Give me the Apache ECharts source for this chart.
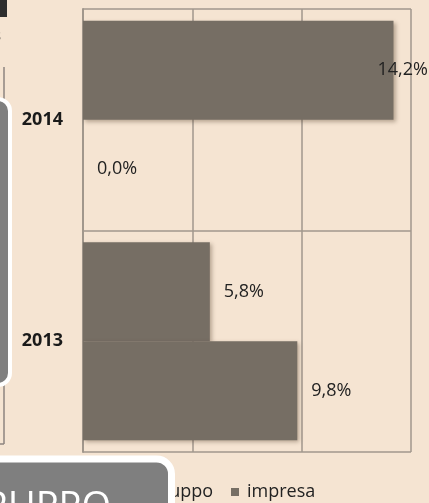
<!DOCTYPE html>
<html>
<head>
<meta charset="utf-8">
<script src="https://cdn.jsdelivr.net/npm/echarts@6/dist/echarts.min.js"></script>
<style>
html,body{margin:0;padding:0;background:#f5e4d2;}
#c{width:429px;height:503px;}
</style>
</head>
<body>
<div id="c"></div>
<script>
const categories = ['2013', '2014'];
const seriesNames = ['gruppo', 'impresa'];
const gruppo = [9.8, 0.0];
const impresa = [5.8, 14.2];
const xTicks = [0, 5, 10, 15];

const barColor = '#766e64';
const lineColor = '#a1978c';
const fmt = v => v.toFixed(1).replace('.', ',') + '%';

function items(arr) {
  return arr.map(v => {
    const it = { value: v };
    if (v > 13) it.label = { offset: [-30, 0] };
    return it;
  });
}

const chart = echarts.init(document.getElementById('c'));
const baseSeries = (name, data) => ({
  name: name,
  type: 'bar',
  data: items(data),
  barGap: '0%',
  barCategoryGap: '10.6%',
  itemStyle: {
    color: barColor,
    shadowColor: 'rgba(70,50,30,0.35)',
    shadowBlur: 4,
    shadowOffsetX: 2,
    shadowOffsetY: 2
  },
  label: {
    show: true,
    position: 'right',
    distance: 14,
    formatter: p => fmt(p.value),
    fontFamily: 'Open Sans',
    fontSize: 18,
    color: '#222222'
  }
});

chart.setOption({
  backgroundColor: '#f5e4d2',
  animation: false,
  grid: { left: 83, right: 18, top: 9, bottom: 51 },
  xAxis: {
    type: 'value',
    min: xTicks[0],
    max: xTicks[xTicks.length - 1],
    interval: xTicks[1] - xTicks[0],
    axisLabel: { show: false },
    axisTick: { show: false },
    axisLine: { show: false },
    splitLine: { show: true, lineStyle: { color: lineColor, width: 1.5 } }
  },
  yAxis: {
    type: 'category',
    data: categories,
    axisLine: { show: true, lineStyle: { color: lineColor, width: 2 } },
    axisTick: { show: false },
    splitLine: { show: true, lineStyle: { color: lineColor, width: 1.5 } },
    axisLabel: {
      margin: 20,
      fontFamily: 'Open Sans',
      fontWeight: 'bold',
      fontSize: 18,
      color: '#1a1a1a'
    }
  },
  legend: {
    data: seriesNames,
    bottom: -3,
    left: 131,
    itemWidth: 8,
    itemHeight: 8,
    itemGap: 18,
    icon: 'rect',
    textStyle: { fontFamily: 'Open Sans', fontSize: 18, color: '#222222', padding: [0, 0, 0, 3] }
  },
  series: [
    baseSeries(seriesNames[1], impresa),
    baseSeries(seriesNames[0], gruppo)
  ],
  graphic: [
    { type: 'rect', z: 100, shape: { x: 0, y: 0, width: 7, height: 17 }, style: { fill: '#2e2e2e' } },
    { type: 'text', z: 100, x: -7, y: 28, style: { text: 's', font: 'bold 16px Open Sans', fill: '#2e2e2e' } },
    { type: 'line', z: 100, shape: { x1: 4, y1: 67, x2: 4, y2: 444 }, style: { stroke: '#8c857f', lineWidth: 1.5 } },
    { type: 'line', z: 100, shape: { x1: 0, y1: 444, x2: 4, y2: 444 }, style: { stroke: '#8c857f', lineWidth: 1.5 } },
    { type: 'rect', z: 101, shape: { x: -200, y: 99, width: 210, height: 286, r: 12 }, style: { fill: '#7f7f7f', stroke: '#ffffff', lineWidth: 4 } },
    { type: 'rect', z: 101, shape: { x: -100, y: 459, width: 271.5, height: 100, r: 15 }, style: { fill: '#7f7f7f', stroke: '#ffffff', lineWidth: 7 } },
    { type: 'text', z: 102, x: 111, y: 489, style: { text: 'GRUPPO', font: '38px Open Sans', fill: '#ffffff', textAlign: 'right', textVerticalAlign: 'top' } }
  ]
});
</script>
</body>
</html>
